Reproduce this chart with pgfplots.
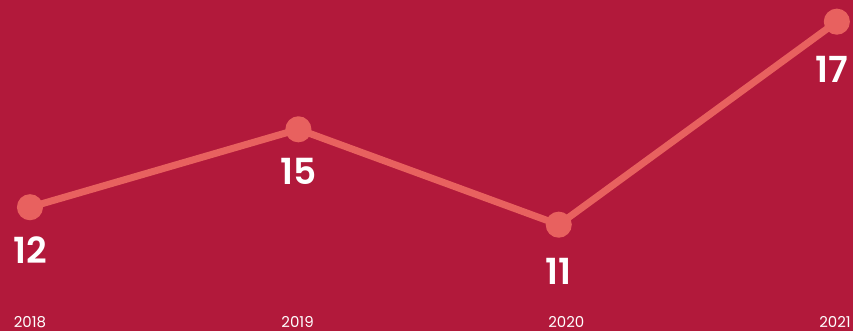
\documentclass[border=0pt]{standalone}
\usepackage{fontspec}
\setmainfont{Poppins}[BoldFont={Poppins SemiBold}]
\usepackage{pgfplots}
\usepackage{pgfplotstable}
\pgfplotsset{compat=1.18}
\definecolor{bgred}{RGB}{178,25,59}
\definecolor{salmon}{RGB}{232,97,95}
\pgfplotstableread{
x y lab dx dy
0 12 12 0 -42.5
0.998 15 15 0 -42
1.966 11.327 11 0 -46.5
3 19.146 17 -5 -47.5
}\datatable
\begin{document}
\begin{tikzpicture}
\begin{axis}[
  width=854pt, height=331pt, scale only axis,
  xmin=-0.1114, xmax=3.0594,
  ymin=7.25, ymax=19.981,
  axis background/.style={fill=bgred},
  axis line style={draw=none},
  tick style={draw=none},
  ytick=\empty,
  xtick={0,0.995,1.994,2.993},
  xticklabels={2018,2019,2020,2021},
  xticklabel style={anchor=base, yshift=3pt, font=\fontsize{15}{17}\selectfont, text=white},
  clip=false,
  point meta=explicit symbolic,
  visualization depends on={\thisrow{dx} \as \dx},
  visualization depends on={\thisrow{dy} \as \dy},
  nodes near coords,
  every node near coord/.append style={anchor=center, xshift=\dx pt, yshift=\dy pt, text=white, font=\fontsize{36}{40}\selectfont\bfseries},
]
\addplot[color=salmon, line width=7pt, mark=*, mark size=9.5pt, mark options={fill=salmon, draw=none}] table[x=x, y=y, meta=lab] {\datatable};
\end{axis}
\end{tikzpicture}
\end{document}
